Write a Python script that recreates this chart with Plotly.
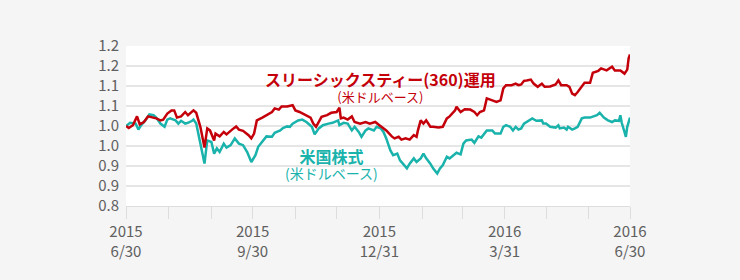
import plotly.graph_objects as go

# ---- data ----
dates_360 = [
    "2015-06-30", "2015-07-02", "2015-07-05", "2015-07-08", "2015-07-10", "2015-07-13",
    "2015-07-16", "2015-07-19", "2015-07-22", "2015-07-25", "2015-07-27", "2015-07-30",
    "2015-08-02", "2015-08-04", "2015-08-06", "2015-08-09", "2015-08-12", "2015-08-14",
    "2015-08-16", "2015-08-18", "2015-08-20", "2015-08-23", "2015-08-26", "2015-08-28",
    "2015-08-30", "2015-09-02", "2015-09-03", "2015-09-06", "2015-09-09", "2015-09-11",
    "2015-09-15", "2015-09-18", "2015-09-20", "2015-09-23", "2015-09-27", "2015-09-29",
    "2015-10-01", "2015-10-03", "2015-10-07", "2015-10-10", "2015-10-14", "2015-10-16",
    "2015-10-19", "2015-10-21", "2015-10-25", "2015-10-29", "2015-10-31", "2015-11-03",
    "2015-11-07", "2015-11-11", "2015-11-13", "2015-11-15", "2015-11-19", "2015-11-23",
    "2015-11-26", "2015-11-30", "2015-12-02", "2015-12-03", "2015-12-05", "2015-12-08",
    "2015-12-11", "2015-12-13", "2015-12-17", "2015-12-21", "2015-12-24", "2015-12-28",
    "2015-12-31", "2016-01-03", "2016-01-05", "2016-01-09", "2016-01-11", "2016-01-14",
    "2016-01-16", "2016-01-19", "2016-01-22", "2016-01-25", "2016-01-27", "2016-01-28",
    "2016-01-30", "2016-02-01", "2016-02-03", "2016-02-06", "2016-02-08", "2016-02-12",
    "2016-02-15", "2016-02-18", "2016-02-20", "2016-02-24", "2016-02-25", "2016-02-28",
    "2016-03-02", "2016-03-06", "2016-03-09", "2016-03-11", "2016-03-13", "2016-03-16",
    "2016-03-18", "2016-03-22", "2016-03-25", "2016-03-28", "2016-03-30", "2016-04-01",
    "2016-04-05", "2016-04-08", "2016-04-10", "2016-04-12", "2016-04-14", "2016-04-16",
    "2016-04-19", "2016-04-21", "2016-04-24", "2016-04-27", "2016-04-29", "2016-05-03",
    "2016-05-07", "2016-05-09", "2016-05-11", "2016-05-15", "2016-05-17", "2016-05-19",
    "2016-05-21", "2016-05-23", "2016-05-26", "2016-05-28", "2016-06-01", "2016-06-03",
    "2016-06-07", "2016-06-09", "2016-06-13", "2016-06-17", "2016-06-19", "2016-06-23",
    "2016-06-26", "2016-06-28", "2016-06-29", "2016-06-30",
]
values_360 = [
    1.000, 0.995, 1.002, 1.024, 1.004, 1.010,
    1.024, 1.021, 1.019, 1.014, 1.016, 1.031,
    1.039, 1.039, 1.021, 1.024, 1.035, 1.027,
    1.033, 1.039, 1.033, 0.998, 0.946, 0.994,
    0.989, 0.964, 0.981, 0.974, 0.985, 0.979,
    0.991, 0.999, 0.991, 0.988, 0.977, 0.969,
    0.981, 1.014, 1.021, 1.027, 1.035, 1.044,
    1.041, 1.049, 1.049, 1.052, 1.039, 1.035,
    1.027, 1.021, 1.006, 0.998, 1.023, 1.027,
    1.033, 1.035, 1.046, 1.019, 1.021, 1.016,
    1.024, 1.010, 1.006, 1.010, 1.006, 1.010,
    1.002, 0.994, 0.989, 0.974, 0.969, 0.973,
    0.966, 0.969, 0.966, 0.977, 0.973, 0.989,
    1.014, 1.006, 1.014, 0.998, 0.998, 0.996,
    0.998, 1.019, 1.024, 1.039, 1.048, 1.035,
    1.042, 1.041, 1.035, 1.027, 1.035, 1.039,
    1.069, 1.064, 1.060, 1.064, 1.094, 1.102,
    1.102, 1.106, 1.102, 1.104, 1.113, 1.114,
    1.116, 1.106, 1.098, 1.106, 1.098, 1.099,
    1.104, 1.114, 1.102, 1.102, 1.098, 1.081,
    1.077, 1.085, 1.098, 1.108, 1.108, 1.133,
    1.138, 1.144, 1.139, 1.148, 1.139, 1.139,
    1.131, 1.141, 1.169, 1.179,
]

dates_us = [
    "2015-06-30", "2015-07-03", "2015-07-07", "2015-07-09", "2015-07-11", "2015-07-14",
    "2015-07-17", "2015-07-20", "2015-07-22", "2015-07-25", "2015-07-28", "2015-07-30",
    "2015-08-01", "2015-08-05", "2015-08-07", "2015-08-09", "2015-08-12", "2015-08-14",
    "2015-08-17", "2015-08-18", "2015-08-20", "2015-08-23", "2015-08-26", "2015-08-28",
    "2015-08-31", "2015-09-02", "2015-09-04", "2015-09-06", "2015-09-09", "2015-09-11",
    "2015-09-14", "2015-09-17", "2015-09-20", "2015-09-23", "2015-09-26", "2015-09-29",
    "2015-10-02", "2015-10-04", "2015-10-07", "2015-10-10", "2015-10-14", "2015-10-16",
    "2015-10-20", "2015-10-22", "2015-10-25", "2015-10-27", "2015-10-29", "2015-11-02",
    "2015-11-05", "2015-11-08", "2015-11-12", "2015-11-14", "2015-11-17", "2015-11-20",
    "2015-11-24", "2015-11-27", "2015-12-01", "2015-12-02", "2015-12-05", "2015-12-08",
    "2015-12-11", "2015-12-13", "2015-12-16", "2015-12-18", "2015-12-21", "2015-12-23",
    "2015-12-27", "2015-12-29", "2016-01-01", "2016-01-03", "2016-01-05", "2016-01-08",
    "2016-01-10", "2016-01-13", "2016-01-15", "2016-01-17", "2016-01-20", "2016-01-22",
    "2016-01-25", "2016-01-27", "2016-01-30", "2016-02-01", "2016-02-03", "2016-02-06",
    "2016-02-08", "2016-02-11", "2016-02-13", "2016-02-15", "2016-02-18", "2016-02-20",
    "2016-02-23", "2016-02-25", "2016-02-28", "2016-03-01", "2016-03-03", "2016-03-07",
    "2016-03-09", "2016-03-12", "2016-03-14", "2016-03-18", "2016-03-22", "2016-03-24",
    "2016-03-28", "2016-03-30", "2016-04-01", "2016-04-04", "2016-04-06", "2016-04-08",
    "2016-04-10", "2016-04-12", "2016-04-14", "2016-04-16", "2016-04-18", "2016-04-20",
    "2016-04-23", "2016-04-27", "2016-04-28", "2016-04-30", "2016-05-03", "2016-05-07",
    "2016-05-09", "2016-05-10", "2016-05-13", "2016-05-15", "2016-05-16", "2016-05-19",
    "2016-05-21", "2016-05-23", "2016-05-26", "2016-05-28", "2016-06-01", "2016-06-03",
    "2016-06-06", "2016-06-08", "2016-06-11", "2016-06-14", "2016-06-17", "2016-06-19",
    "2016-06-22", "2016-06-23", "2016-06-24", "2016-06-26", "2016-06-27", "2016-06-28",
    "2016-06-30",
]
values_us = [
    1.000, 1.008, 1.006, 0.991, 1.002, 1.014,
    1.029, 1.027, 1.021, 1.006, 0.998, 1.016,
    1.019, 1.014, 1.006, 1.013, 1.006, 1.008,
    1.013, 1.016, 1.006, 0.956, 0.906, 0.964,
    0.960, 0.931, 0.944, 0.935, 0.956, 0.946,
    0.952, 0.969, 0.956, 0.952, 0.935, 0.910,
    0.927, 0.948, 0.960, 0.974, 0.973, 0.983,
    0.989, 0.995, 0.999, 0.998, 1.006, 1.014,
    1.016, 1.010, 0.998, 0.979, 0.994, 1.002,
    1.006, 1.008, 1.014, 1.002, 1.008, 1.006,
    0.989, 0.998, 0.985, 0.973, 0.989, 0.994,
    0.989, 0.998, 0.994, 0.985, 0.969, 0.939,
    0.927, 0.931, 0.914, 0.906, 0.894, 0.906,
    0.919, 0.910, 0.919, 0.931, 0.919, 0.906,
    0.894, 0.881, 0.894, 0.902, 0.923, 0.919,
    0.927, 0.933, 0.929, 0.956, 0.964, 0.966,
    0.958, 0.974, 0.971, 0.989, 0.989, 0.981,
    0.981, 0.998, 1.002, 0.998, 0.989, 0.998,
    0.991, 0.994, 1.006, 1.010, 1.013, 1.019,
    1.013, 1.014, 1.006, 1.006, 0.998, 0.996,
    1.002, 0.994, 0.996, 0.991, 0.998, 0.991,
    0.994, 0.998, 1.019, 1.021, 1.021, 1.024,
    1.027, 1.033, 1.021, 1.014, 1.010, 1.014,
    1.013, 1.027, 1.008, 0.985, 0.973, 0.998,
    1.021,
]

x_tick_vals = [
    "2015-06-30", "2015-07-31", "2015-08-31", "2015-09-30", "2015-10-31", "2015-11-30",
    "2015-12-31", "2016-01-31", "2016-02-29", "2016-03-31", "2016-04-30", "2016-05-31",
    "2016-06-30",
]
x_tick_text = [
    "2015<br>6/30", "", "", "2015<br>9/30", "", "",
    "2015<br>12/31", "", "", "2016<br>3/31", "", "",
    "2016<br>6/30",
]
y_tick_vals = [0.80, 0.85, 0.90, 0.95, 1.00, 1.05, 1.10, 1.15, 1.20]
y_tick_text = ["0.8", "0.9", "0.9", "1.0", "1.0", "1.1", "1.1", "1.2", "1.2"]

name_360 = "スリーシックスティー(360)運用"
name_us = "米国株式"
sub_label = "(米ドルベース)"

RED = "#c4000a"
TEAL = "#1ab3ac"
FONT = "Noto Sans CJK JP"

fig = go.Figure()
fig.add_trace(go.Scatter(x=dates_us, y=values_us, mode="lines", name=name_us,
                         line=dict(color=TEAL, width=2.5)))
fig.add_trace(go.Scatter(x=dates_360, y=values_360, mode="lines", name=name_360,
                         line=dict(color=RED, width=2.5)))

fig.update_layout(
    width=740, height=280,
    margin=dict(l=126, r=110, t=46, b=74),
    paper_bgcolor="#f5f5f5",
    plot_bgcolor="#ffffff",
    showlegend=False,
    font=dict(family=FONT, size=14, color="#606060"),
    xaxis=dict(
        type="date",
        range=["2015-06-30", "2016-06-30"],
        tickmode="array", tickvals=x_tick_vals, ticktext=x_tick_text,
        ticks="outside", ticklen=12, tickcolor="#dddddd", tickwidth=1,
        showgrid=False, zeroline=False,
        showline=True, linecolor="#dddddd", linewidth=1,
        tickfont=dict(family=FONT, size=15, color="#606060"),
    ),
    yaxis=dict(
        range=[0.8, 1.2],
        tickmode="array", tickvals=y_tick_vals, ticktext=y_tick_text,
        showgrid=True, gridcolor="#e6e6e6", gridwidth=1.5,
        zeroline=False, showline=False, ticks="",
        ticklabelstandoff=6,
        tickfont=dict(family=FONT, size=15, color="#606060"),
    ),
)

ann_common = dict(xref="paper", yref="paper", showarrow=False,
                  xanchor="center", yanchor="middle", align="center")
fig.add_annotation(
    x=0.504, y=0.75,
    text=("<span style='font-size:16px'><b>" + name_360 + "</b></span><br>"
          "<span style='font-size:13px'>" + sub_label + "</span>"),
    font=dict(family=FONT, size=12.5, color=RED), **ann_common)
fig.add_annotation(
    x=0.408, y=0.267,
    text=("<span style='font-size:16px'><b>" + name_us + "</b></span><br>"
          "<span style='font-size:14px'>" + sub_label + "</span>"),
    font=dict(family=FONT, size=12, color=TEAL), **ann_common)

fig.write_html("out.html")
